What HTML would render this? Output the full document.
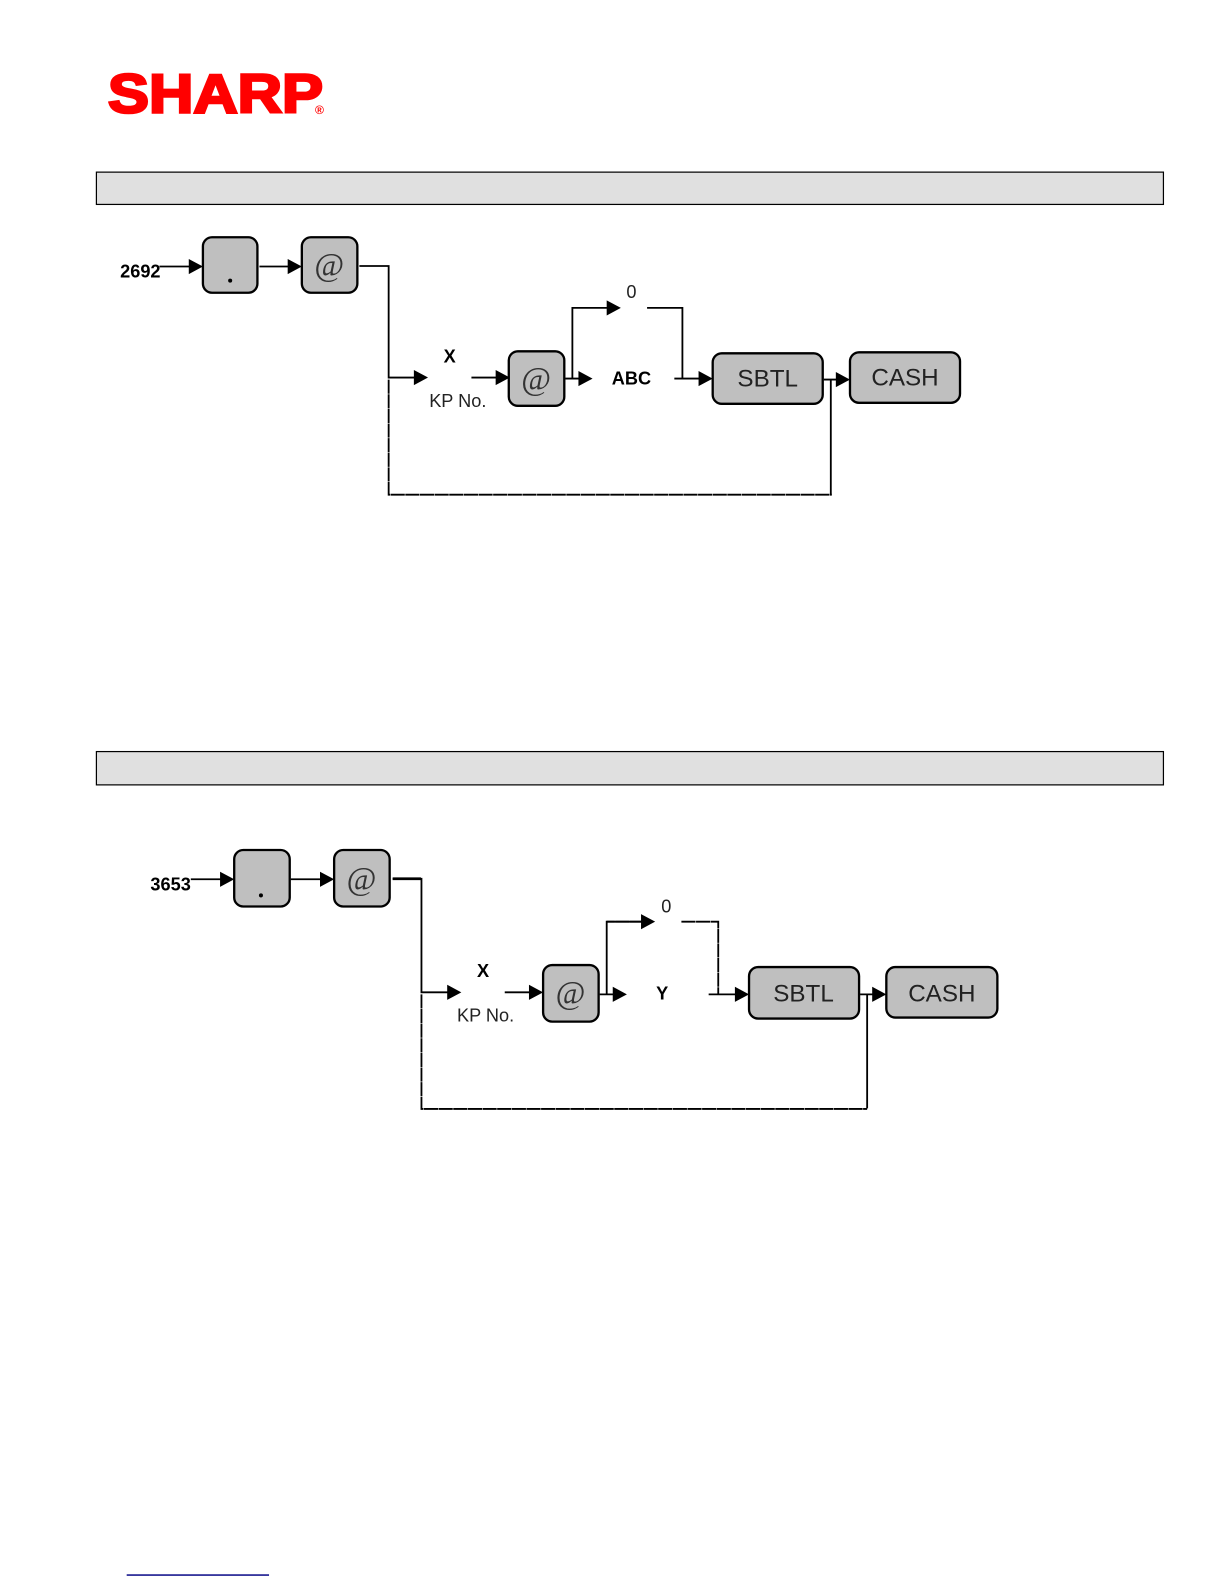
<!DOCTYPE html>
<html><head><meta charset="utf-8"><style>
html,body{margin:0;padding:0;background:#fff;width:1224px;height:1584px;overflow:hidden}
svg{display:block}
text{font-family:"Liberation Sans",sans-serif;fill:#000}
.k{fill:#bfbfbf;stroke:#000;stroke-width:2.300}
.l{fill:none;stroke:#000;stroke-width:1.800}
.d{fill:none;stroke:#000;stroke-width:1.800;stroke-dasharray:14 0.500}
.at{font-family:"Liberation Serif",serif;font-style:italic;font-size:32px;fill:#333}
.t{font-size:24px;fill:#222}
.s{font-size:18px;fill:#222}
.b{font-size:18px;font-weight:bold}
</style></head><body>
<svg width="1224" height="1584" viewBox="0 0 1212.500 1569.100" xmlns="http://www.w3.org/2000/svg">
<defs><path id="a" d="M-14,-7.500L0,0L-14,7.500Z" fill="#000"/></defs>

<text x="107" y="111.500" font-size="54" font-weight="bold" textLength="213" lengthAdjust="spacingAndGlyphs" style="fill:#f00;stroke:#f00;stroke-width:2.600">SHARP</text>
<text x="312" y="113" font-size="12" font-weight="bold" style="fill:#f00">®</text>

<rect x="95.500" y="170.500" width="1057" height="32" fill="#e0e0e0" stroke="#000" stroke-width="1.200"/>
<rect x="95.500" y="744.500" width="1057" height="33" fill="#e0e0e0" stroke="#000" stroke-width="1.200"/>

<!-- Diagram 1 -->
<text class="b" x="119" y="275">2692</text>
<path class="l" d="M158,264H190M257,264H288M356,263.500H385V374H412M467,374H494M560,375H576M567,375V305H603M641,305H676V375M668,375H695M816,376H830M823,376V490"/>
<path class="d" d="M385,376V490H824"/>
<use href="#a" x="201" y="264"/><use href="#a" x="299" y="264"/><use href="#a" x="424" y="374"/><use href="#a" x="505" y="374"/>
<use href="#a" x="587" y="375"/><use href="#a" x="615" y="305"/><use href="#a" x="706" y="375"/><use href="#a" x="842" y="376"/>
<rect class="k" x="201" y="235" width="54" height="55" rx="9"/>
<circle cx="228" cy="278" r="2"/>
<rect class="k" x="299" y="235" width="55" height="55" rx="9"/>
<text class="at" x="326" y="273" text-anchor="middle">@</text>
<rect class="k" x="504" y="348" width="55" height="54" rx="9"/>
<text class="at" x="531" y="386" text-anchor="middle">@</text>
<rect class="k" x="706" y="350" width="109" height="50" rx="9"/>
<text class="t" x="760.500" y="383" text-anchor="middle">SBTL</text>
<rect class="k" x="842" y="349" width="109" height="50" rx="9"/>
<text class="t" x="896.500" y="382" text-anchor="middle">CASH</text>
<text class="s" x="625.500" y="295" text-anchor="middle">0</text>
<text class="b" x="445.500" y="359" text-anchor="middle">X</text>
<text class="s" x="453.500" y="403" text-anchor="middle">KP No.</text>
<text class="b" x="625.500" y="381" text-anchor="middle">ABC</text>

<!-- Diagram 2 -->
<text class="b" x="149" y="882">3653</text>
<path class="l" d="M189,871H221M288,871H319M389,870.500H417.500V983H445M500,983H527M594,985H609M601,985V913H637M702,985H730M852,985H866M859,985V1098"/>
<path class="l" style="stroke-width:2.800" d="M389,870.500H417"/>
<path class="d" d="M417.500,985V1098.500H859M638,913H601M675,913H711.500V985"/>
<use href="#a" x="232" y="871"/><use href="#a" x="331" y="871"/><use href="#a" x="457" y="983"/><use href="#a" x="538" y="983"/>
<use href="#a" x="621" y="985"/><use href="#a" x="649" y="913"/><use href="#a" x="742" y="985"/><use href="#a" x="878" y="985"/>
<rect class="k" x="232" y="842" width="55" height="56" rx="9"/>
<circle cx="258.500" cy="887" r="2"/>
<rect class="k" x="331" y="842" width="55" height="56" rx="9"/>
<text class="at" x="358" y="881" text-anchor="middle">@</text>
<rect class="k" x="538" y="956" width="55" height="56" rx="9"/>
<text class="at" x="565" y="994" text-anchor="middle">@</text>
<rect class="k" x="742" y="958" width="109" height="51" rx="9"/>
<text class="t" x="796" y="992" text-anchor="middle">SBTL</text>
<rect class="k" x="878" y="958" width="110" height="50" rx="9"/>
<text class="t" x="933" y="992" text-anchor="middle">CASH</text>
<text class="s" x="660" y="904" text-anchor="middle">0</text>
<text class="b" x="478.500" y="968" text-anchor="middle">X</text>
<text class="s" x="481" y="1012" text-anchor="middle">KP No.</text>
<text class="b" x="656" y="990" text-anchor="middle">Y</text>

<rect x="125.500" y="1559.500" width="141" height="1.500" fill="#0c0c88"/>
</svg>
</body></html>
